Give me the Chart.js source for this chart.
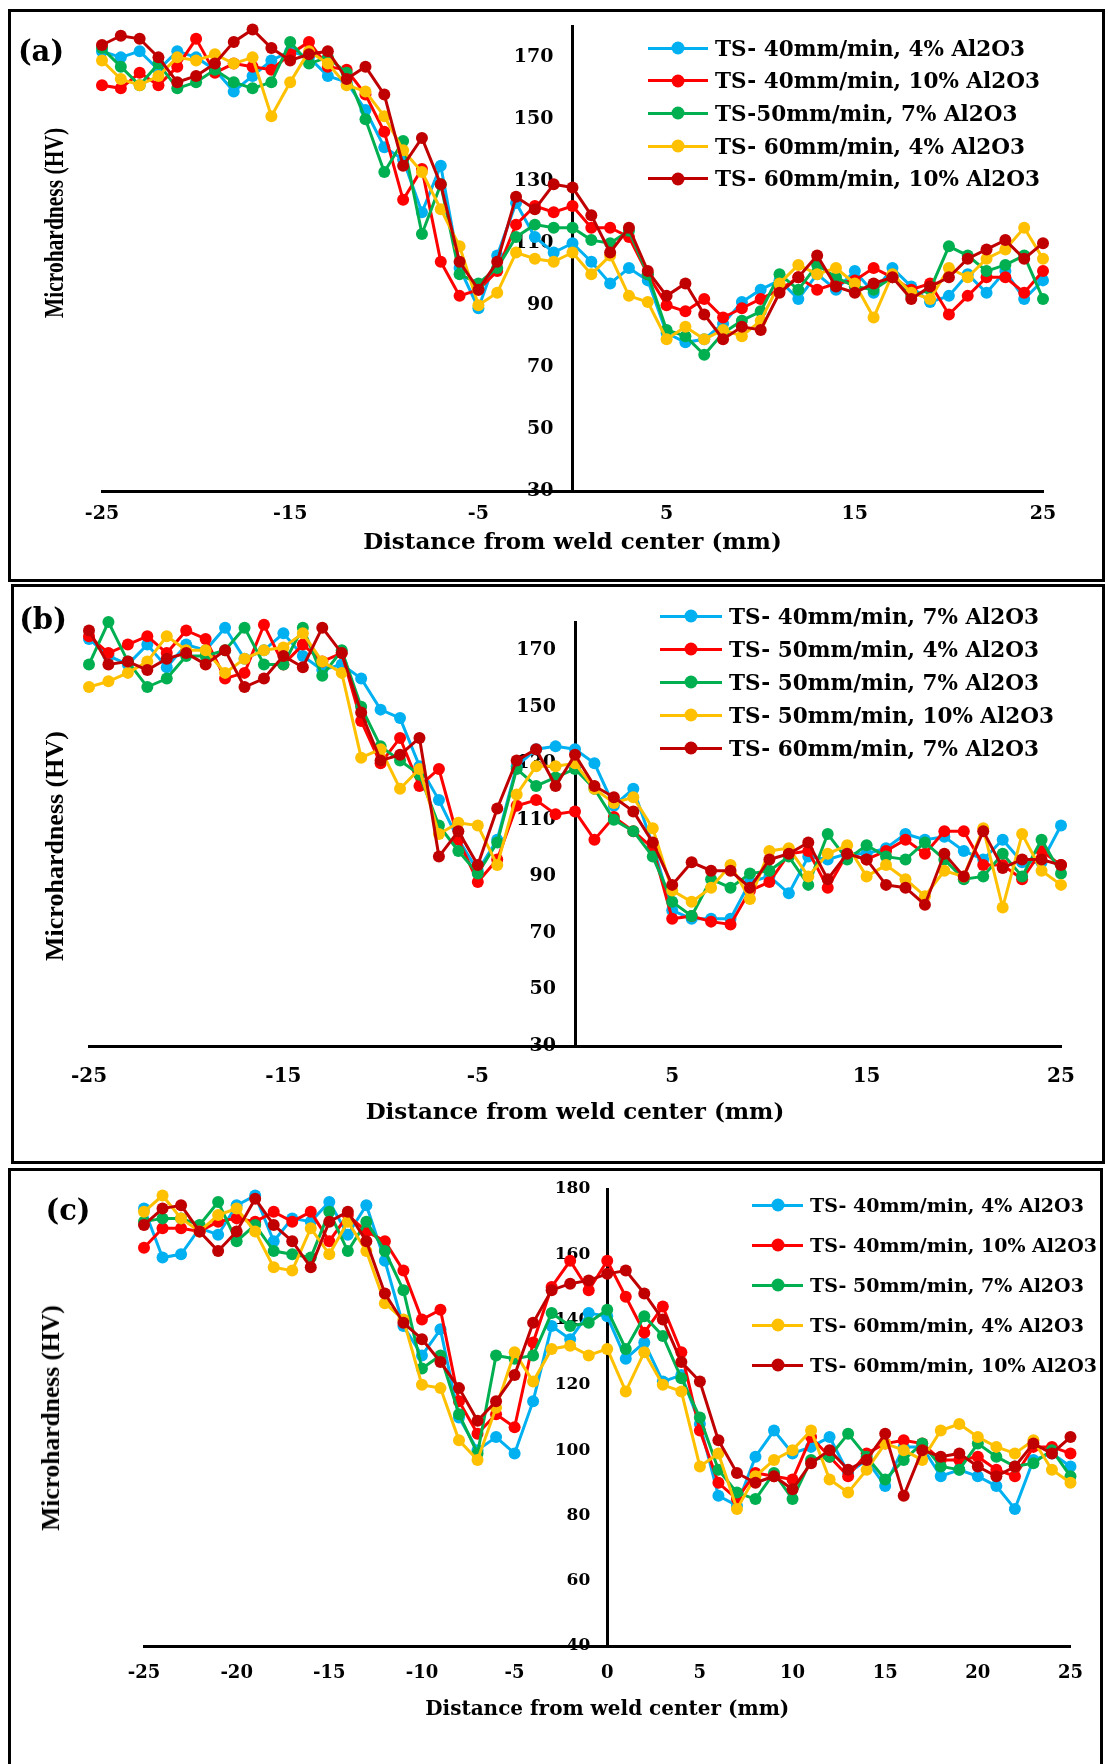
<!DOCTYPE html>
<html>
<head>
<meta charset="utf-8">
<script src="https://cdn.jsdelivr.net/npm/chart.js@4.4.1/dist/chart.umd.min.js"></script>
<style>
  html, body { margin: 0; padding: 0; background: #fff; width: 1108px; height: 1764px; overflow: hidden; }
  .panel { position: absolute; border: 3px solid #000; box-sizing: border-box; background: #fff; }
  .panel canvas { position: absolute; left: 0; top: 0; }
  .tag { position: absolute; font-family: "DejaVu Serif"; font-weight: bold; font-size: 29px; transform: translate(-50%, -50%); white-space: nowrap; }
  .ytitle { position: absolute; font-family: "Liberation Serif"; font-weight: bold; white-space: nowrap; transform: translate(-50%, -50%) rotate(-90deg); }
  .leg { position: absolute; height: 24px; display: flex; align-items: center; white-space: nowrap; font-family: "DejaVu Serif"; font-weight: bold; color: #000; }
  .leg .sw { position: relative; height: 3px; margin-right: 7px; }
  .leg .sw i { position: absolute; left: 50%; top: 50%; width: 13px; height: 13px; border-radius: 50%; transform: translate(-50%, -50%); }
</style>
</head>
<body>

<div class="panel" style="left:8px; top:9px; width:1097px; height:573px;">
  <canvas id="chartA" width="1091" height="567"></canvas>
</div>
<div class="panel" style="left:11px; top:584px; width:1094px; height:580px;">
  <canvas id="chartB" width="1088" height="574"></canvas>
</div>
<div class="panel" style="left:8px; top:1168px; width:1095px; height:620px;">
  <canvas id="chartC" width="1089" height="590"></canvas>
</div>

<div class="tag" style="left:41px; top:51px;">(a)</div>
<div class="tag" style="left:43px; top:619px;">(b)</div>
<div class="tag" style="left:68px; top:1210px;">(c)</div>

<div class="ytitle" style="left:55px; top:223px; font-size:21.5px; transform: translate(-50%, -50%) rotate(-90deg) scaleY(1.3);">Microhardness (HV)</div>
<div class="ytitle" style="left:55px; top:846px; font-size:26px;">Microhardness (HV)</div>
<div class="ytitle" style="left:51px; top:1418px; font-size:25.5px;">Microhardness (HV)</div>

<script>
// distance from weld center (mm)
const distance = [-25,-24,-23,-22,-21,-20,-19,-18,-17,-16,-15,-14,-13,-12,-11,-10,-9,-8,-7,-6,-5,-4,-3,-2,-1,
  0,1,2,3,4,5,6,7,8,9,10,11,12,13,14,15,16,17,18,19,20,21,22,23,24,25];

// tick labels
const xTicksAB = [-25, -15, -5, 5, 15, 25];
const xTicksC = [-25, -20, -15, -10, -5, 0, 5, 10, 15, 20, 25];
const yTicksAB = [30, 50, 70, 90, 110, 130, 150, 170];
const yTicksC = [40, 60, 80, 100, 120, 140, 160, 180];

const seriesColors = ["#00B0F0", "#FF0000", "#00B050", "#FFC000", "#C00000"];

// panel (a)
const namesA = ["TS- 40mm/min, 4% Al2O3", "TS- 40mm/min, 10% Al2O3", "TS-50mm/min, 7% Al2O3",
  "TS- 60mm/min, 4% Al2O3", "TS- 60mm/min, 10% Al2O3"];
const hvA1 = [172,170,172,166,172,170,166,159,164,169,172,170,164,162,153,141,137,120,135,102,89,106,123,112,107,110,
  104,97,102,98,81,78,79,84,91,95,98,92,100,95,101,94,102,96,91,93,100,94,101,92,98];
const hvA2 = [161,160,165,161,167,176,165,168,167,166,171,175,167,166,158,146,124,134,104,93,95,101,116,122,120,122,
  115,115,112,100,90,88,92,86,89,92,95,99,95,97,98,102,99,95,97,87,93,99,99,94,101];
const hvA3 = [173,167,161,168,160,162,166,162,160,162,175,168,170,165,150,133,143,113,129,100,97,102,112,116,115,115,
  111,110,114,100,82,80,74,81,85,88,100,95,103,99,96,95,99,93,95,109,106,101,103,106,92];
const hvA4 = [169,163,161,164,170,169,171,168,170,151,162,172,168,161,159,151,140,133,121,109,90,94,107,105,104,107,
  100,106,93,91,79,83,79,82,80,85,97,103,100,102,97,86,100,94,92,102,99,105,108,115,105];
const hvA5 = [174,177,176,170,162,164,168,175,179,173,169,171,172,163,167,158,135,144,129,104,95,104,125,121,129,128,
  119,107,115,101,93,97,87,79,83,82,94,99,106,96,94,97,99,92,96,99,105,108,111,105,110];

// panel (b)
const namesB = ["TS- 40mm/min, 7% Al2O3", "TS- 50mm/min, 4% Al2O3", "TS- 50mm/min, 7% Al2O3",
  "TS- 50mm/min, 10% Al2O3", "TS- 60mm/min, 7% Al2O3"];
const hvB1 = [174,168,165,172,164,172,170,178,167,170,176,168,163,165,160,149,146,129,117,103,92,103,129,135,136,135,
  130,115,121,101,78,75,75,75,88,90,84,97,96,98,98,100,105,103,104,99,96,103,95,95,108];
const hvB2 = [175,169,172,175,169,177,174,160,162,179,165,172,166,169,145,130,139,122,128,103,88,96,115,117,112,113,
  103,111,106,100,75,76,74,73,85,88,98,99,86,98,96,99,103,98,106,106,94,94,89,99,94];
const hvB3 = [165,180,166,157,160,168,168,170,178,165,165,178,161,170,150,136,131,126,108,99,91,102,128,122,125,128,
  121,110,106,97,81,76,89,86,91,92,97,87,105,96,101,97,96,102,96,89,90,98,90,103,91];
const hvB4 = [157,159,162,166,175,170,170,162,167,170,171,176,166,162,132,135,121,128,105,109,108,94,119,129,129,130,
  121,116,118,107,85,81,86,94,82,99,100,90,98,101,90,94,89,83,92,90,107,79,105,92,87];
const hvB5 = [177,165,166,163,167,169,165,170,157,160,168,164,178,169,148,131,133,139,97,106,94,114,131,135,122,133,
  122,118,113,102,87,95,92,92,86,96,98,102,89,98,96,87,86,80,98,90,106,93,96,96,94];

// panel (c)
const namesC = ["TS- 40mm/min, 4% Al2O3", "TS- 40mm/min, 10% Al2O3", "TS- 50mm/min, 7% Al2O3",
  "TS- 60mm/min, 4% Al2O3", "TS- 60mm/min, 10% Al2O3"];
const hvC1 = [174,159,160,168,166,175,178,164,171,170,176,166,175,158,138,129,137,110,100,104,99,115,138,134,142,141,
  128,133,121,123,108,86,83,98,106,99,101,104,93,97,89,101,101,92,94,92,89,82,97,99,95];
const hvC2 = [162,168,168,167,170,171,170,173,170,173,164,172,167,164,155,140,143,115,105,111,107,133,150,158,149,158,
  147,136,144,130,106,90,85,93,92,91,104,98,92,99,102,103,102,97,97,98,94,92,101,101,99];
const hvC3 = [170,171,171,169,176,164,169,161,160,159,173,161,170,161,149,125,129,111,99,129,128,129,142,138,139,143,
  131,141,135,122,110,94,87,85,93,85,97,98,105,98,91,97,102,95,94,102,98,95,96,100,92];
const hvC4 = [173,178,171,167,172,174,167,156,155,168,160,170,161,145,140,120,119,103,97,113,130,121,131,132,129,131,
  118,130,120,118,95,99,82,92,97,100,106,91,87,94,102,100,97,106,108,104,101,99,103,94,90];
const hvC5 = [169,174,175,167,161,167,177,169,164,156,170,173,164,148,139,134,127,119,109,115,123,139,149,151,152,154,
  155,148,140,127,121,103,93,90,92,88,96,100,94,97,105,86,100,98,99,95,92,95,102,99,104];

const SERIF = "DejaVu Serif";
const xTitle = "Distance from weld center (mm)";

const panels = [
  {
    canvas: "chartA", names: namesA, series: [hvA1, hvA2, hvA3, hvA4, hvA5],
    xTicks: xTicksAB, yTicks: yTicksAB, yMin: 30, yMax: 180,
    pad: { left: 91, right: 59, top: 10, bottom: 19 },
    axisH: 69, xTickPad: 12, xTickSize: 19, titleSize: 23, titlePad: 3, yTickSize: 19,
    legend: { left: 648, top: 48, gap: 32.7, sw: 60, size: 21.5 }
  },
  {
    canvas: "chartB", names: namesB, series: [hvB1, hvB2, hvB3, hvB4, hvB5],
    xTicks: xTicksAB, yTicks: yTicksAB, yMin: 30, yMax: 180,
    pad: { left: 75, right: 41, top: 35, bottom: 25 },
    axisH: 90, xTickPad: 19, xTickSize: 20, titleSize: 23, titlePad: 9, yTickSize: 19,
    legend: { left: 660, top: 616, gap: 33, sw: 62, size: 21.5 }
  },
  {
    canvas: "chartC", names: namesC, series: [hvC1, hvC2, hvC3, hvC4, hvC5],
    xTicks: xTicksC, yTicks: yTicksC, yMin: 40, yMax: 180,
    pad: { left: 133, right: 28, top: 18, bottom: 25 },
    axisH: 90, xTickPad: 17, xTickSize: 18, titleSize: 20, titlePad: 14, yTickSize: 17,
    legend: { left: 752, top: 1205, gap: 40, sw: 51, size: 19 }
  }
];

function addLegend(p) {
  const L = p.legend;
  p.names.forEach((name, i) => {
    const row = document.createElement("div");
    row.className = "leg";
    row.style.left = L.left + "px";
    row.style.top = (L.top + i * L.gap - 12) + "px";
    row.style.fontSize = L.size + "px";
    const sw = document.createElement("span");
    sw.className = "sw";
    sw.style.width = L.sw + "px";
    sw.style.background = seriesColors[i];
    const dot = document.createElement("i");
    dot.style.background = seriesColors[i];
    sw.appendChild(dot);
    const txt = document.createElement("span");
    txt.textContent = name;
    row.appendChild(sw);
    row.appendChild(txt);
    document.body.appendChild(row);
  });
}

function drawPanel(p) {
  new Chart(document.getElementById(p.canvas), {
    type: "line",
    data: {
      labels: distance,
      datasets: p.series.map((vals, i) => ({
        label: p.names[i],
        data: vals,
        borderColor: seriesColors[i],
        backgroundColor: seriesColors[i],
        borderWidth: 3,
        pointRadius: 6,
        pointBorderWidth: 0,
        pointBackgroundColor: seriesColors[i],
        tension: 0,
        clip: false,
        order: p.series.length - i   // last series on top, like the original
      }))
    },
    options: {
      responsive: false,
      animation: false,
      devicePixelRatio: 1,
      events: [],
      layout: { autoPadding: false, padding: p.pad },
      plugins: { legend: { display: false }, tooltip: { enabled: false } },
      scales: {
        x: {
          type: "linear", min: -25, max: 25,
          afterBuildTicks: s => { s.ticks = p.xTicks.map(v => ({ value: v })); },
          afterFit: s => { s.height = p.axisH; },
          grid: { display: false, drawTicks: false },
          border: { display: true, color: "#000", width: 3 },
          ticks: {
            color: "#000", padding: p.xTickPad, maxRotation: 0, autoSkip: false,
            font: { family: SERIF, weight: "bold", size: p.xTickSize }
          },
          title: {
            display: true, text: xTitle, color: "#000",
            padding: { top: 0, bottom: p.titlePad },
            font: { family: SERIF, weight: "bold", size: p.titleSize }
          }
        },
        y: {
          type: "linear", position: { x: 0 }, min: p.yMin, max: p.yMax,
          afterBuildTicks: s => { s.ticks = p.yTicks.map(v => ({ value: v })); },
          grid: { display: false, drawTicks: false },
          border: { display: true, color: "#000", width: 3 },
          ticks: {
            color: "#000", autoSkip: false,
            font: { family: SERIF, weight: "bold", size: p.yTickSize },
            callback: v => v + "\u2003"
          }
        }
      }
    }
  });
  addLegend(p);
}

panels.forEach(drawPanel);
</script>
</body>
</html>
